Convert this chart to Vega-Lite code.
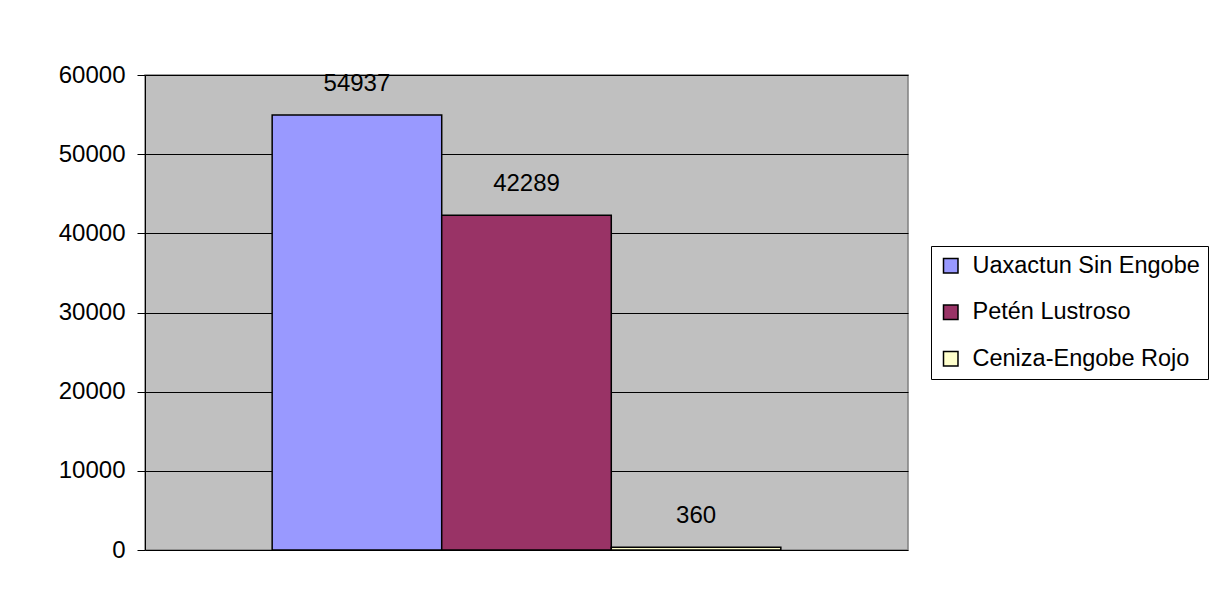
{
  "$schema": "https://vega.github.io/schema/vega-lite/v6.json",
  "autosize": "none",
  "width": 763,
  "height": 475,
  "padding": {"left": 145, "top": 75, "right": 322, "bottom": 63},
  "background": "white",
  "data": {"values": [
    {"serie": "Uaxactun Sin Engobe", "valor": 54937},
    {"serie": "Petén Lustroso", "valor": 42289},
    {"serie": "Ceniza-Engobe Rojo", "valor": 360}
  ]},
  "encoding": {
    "x": {"field": "serie", "type": "nominal", "sort": null,
      "scale": {"paddingInner": 0, "paddingOuter": 0.75},
      "axis": {"labels": false, "ticks": false, "title": null, "domain": false}},
    "y": {"field": "valor", "type": "quantitative",
      "scale": {"domain": [0, 60000], "nice": false},
      "axis": {"values": [0, 10000, 20000, 30000, 40000, 50000, 60000], "format": "d", "title": null,
        "domainColor": "#000000", "domainWidth": 1, "tickColor": "#000000", "tickSize": 8,
        "labelFont": "Liberation Sans", "labelFontSize": 24, "labelColor": "#000000", "labelPadding": 12,
        "gridColor": "#000000", "gridWidth": 1}}
  },
  "layer": [
    {"mark": {"type": "bar", "stroke": "#000000", "strokeWidth": 1.5},
      "encoding": {"color": {"field": "serie", "type": "nominal", "sort": null,
        "scale": {"domain": ["Uaxactun Sin Engobe", "Petén Lustroso", "Ceniza-Engobe Rojo"], "range": ["#9999FF", "#993366", "#FFFFCC"]},
        "legend": {"title": null, "orient": "none", "legendX": 786, "legendY": 171,
          "symbolType": "square", "symbolSize": 210, "symbolStrokeColor": "#000000", "symbolStrokeWidth": 1.5,
          "labelFont": "Liberation Sans", "labelFontSize": 23.5, "labelColor": "#000000", "rowPadding": 21.5, "labelOffset": 10,
          "strokeColor": "#000000", "padding": 8, "labelLimit": 400, "fillColor": "white"}}}},
    {"mark": {"type": "text", "baseline": "alphabetic", "dy": -24, "font": "Liberation Sans", "fontSize": 24, "color": "#000000"},
      "encoding": {"text": {"field": "valor", "type": "quantitative", "format": "d"}}}
  ],
  "config": {
    "view": {"fill": "#C0C0C0", "stroke": "#808080", "strokeWidth": 1.5}
  }
}
